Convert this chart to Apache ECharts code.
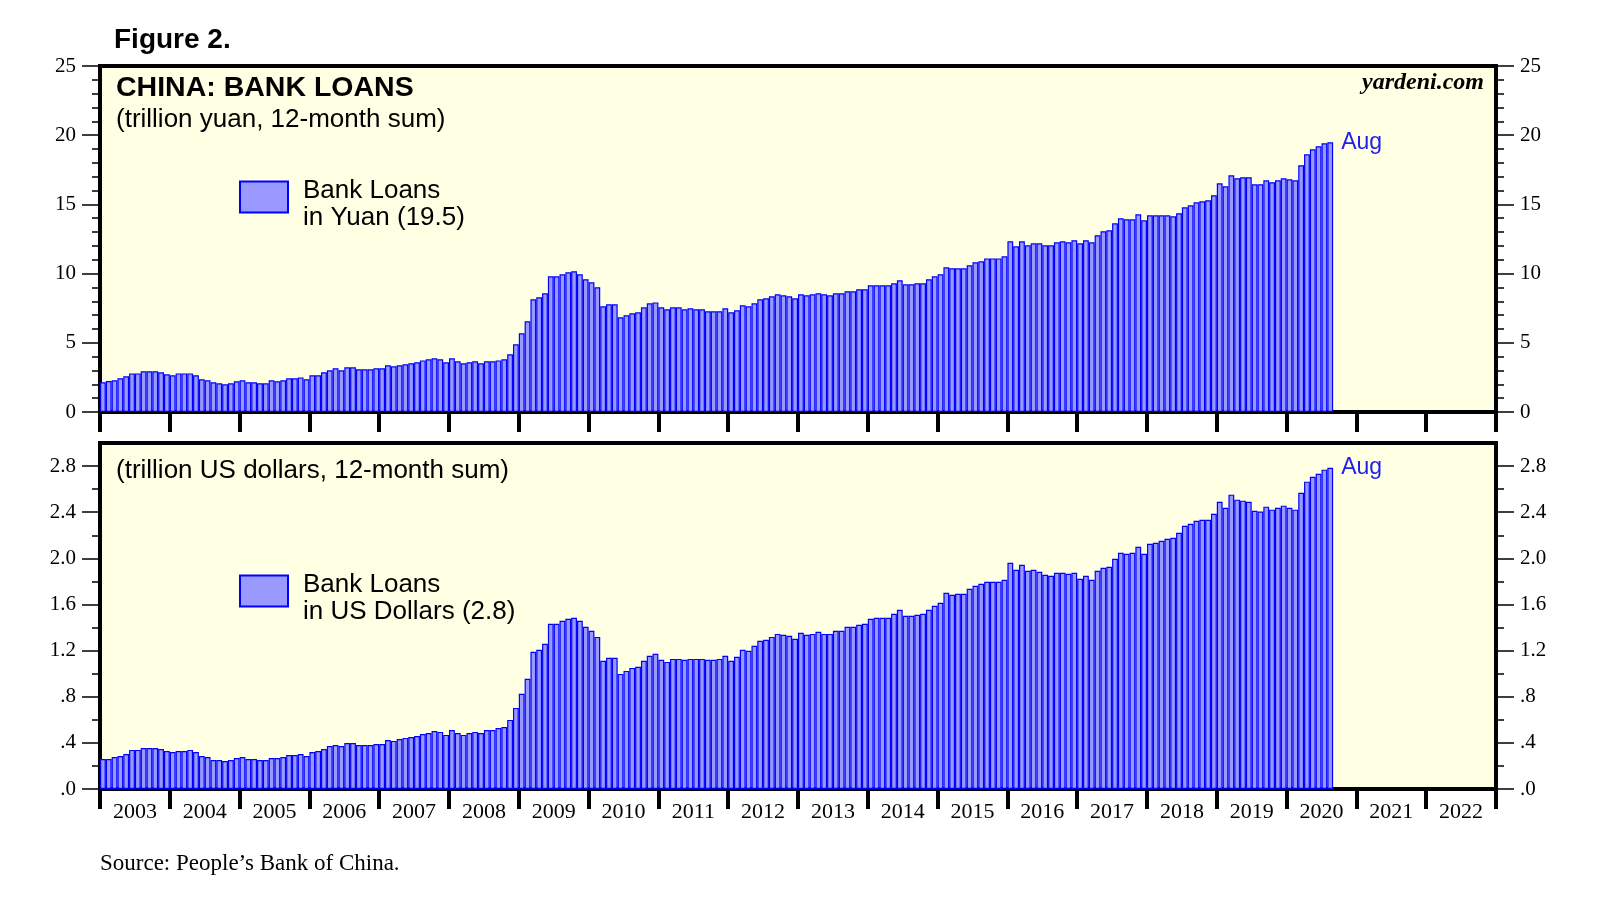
<!DOCTYPE html>
<html>
<head>
<meta charset="utf-8">
<script src="https://cdn.jsdelivr.net/npm/echarts@6/dist/echarts.min.js"></script>
<style>
html,body{margin:0;padding:0;background:#fff;}
#chart{width:1624px;height:923px;}
</style>
</head>
<body>
<div id="chart"></div>
<script>
const years = ['2003','2004','2005','2006','2007','2008','2009','2010','2011','2012','2013','2014','2015','2016','2017','2018','2019','2020','2021','2022'];
const months = [];
years.forEach(y => { for (let m = 1; m <= 12; m++) months.push(y + '-' + (m < 10 ? '0' + m : m)); });

// Bank loans, trillion yuan, 12-month sum (Jan 2003 - Aug 2020)
const yuanLoans = [
  2.15,2.24,2.29,2.43,2.58,2.79,2.79,2.94,2.94,2.94,2.87,2.72,
  2.65,2.79,2.79,2.79,2.65,2.36,2.29,2.15,2.07,2.00,2.07,2.22,
  2.29,2.15,2.15,2.07,2.07,2.29,2.22,2.29,2.43,2.43,2.50,2.36,
  2.65,2.65,2.87,3.01,3.16,3.01,3.23,3.23,3.08,3.08,3.08,3.16,
  3.16,3.37,3.30,3.37,3.45,3.52,3.59,3.73,3.81,3.88,3.81,3.59,
  3.88,3.66,3.52,3.59,3.66,3.52,3.66,3.66,3.73,3.81,4.17,4.89,
  5.69,6.55,8.14,8.29,8.58,9.80,9.80,9.95,10.09,10.17,9.95,9.59,
  9.37,9.01,7.64,7.78,7.78,6.84,6.99,7.13,7.20,7.56,7.85,7.92,
  7.56,7.42,7.56,7.56,7.42,7.49,7.42,7.42,7.28,7.28,7.28,7.49,
  7.20,7.35,7.71,7.64,7.85,8.14,8.21,8.36,8.50,8.43,8.36,8.21,
  8.50,8.43,8.50,8.58,8.50,8.43,8.58,8.58,8.72,8.72,8.87,8.87,
  9.15,9.15,9.15,9.15,9.30,9.52,9.23,9.23,9.30,9.30,9.59,9.80,
  9.95,10.46,10.38,10.38,10.38,10.60,10.82,10.89,11.10,11.10,11.10,11.25,
  12.33,11.97,12.33,12.04,12.19,12.19,12.04,12.04,12.26,12.33,12.26,12.41,
  12.19,12.41,12.26,12.77,13.06,13.13,13.63,14.00,13.92,13.92,14.28,13.85,
  14.21,14.21,14.21,14.21,14.14,14.36,14.79,14.93,15.15,15.22,15.30,15.66,
  16.52,16.31,17.10,16.89,16.96,16.96,16.45,16.45,16.74,16.60,16.74,16.89,
  16.81,16.74,17.83,18.62,18.98,19.20,19.41,19.49
];

// Bank loans, trillion US dollars, 12-month sum (Jan 2003 - Aug 2020)
const usdLoans = [
  0.260,0.260,0.278,0.286,0.304,0.339,0.339,0.356,0.356,0.356,0.347,0.330,
  0.321,0.330,0.330,0.339,0.321,0.286,0.278,0.252,0.252,0.243,0.252,0.269,
  0.278,0.260,0.260,0.252,0.252,0.269,0.269,0.278,0.295,0.295,0.304,0.286,
  0.321,0.330,0.347,0.373,0.382,0.373,0.399,0.399,0.382,0.382,0.382,0.390,
  0.390,0.425,0.417,0.434,0.443,0.451,0.460,0.477,0.486,0.503,0.495,0.469,
  0.512,0.486,0.469,0.486,0.495,0.486,0.512,0.512,0.529,0.538,0.599,0.703,
  0.825,0.955,1.189,1.207,1.259,1.432,1.432,1.458,1.476,1.484,1.458,1.406,
  1.372,1.319,1.111,1.137,1.137,0.998,1.024,1.050,1.059,1.111,1.155,1.172,
  1.120,1.102,1.128,1.128,1.120,1.128,1.128,1.128,1.120,1.120,1.128,1.155,
  1.111,1.146,1.207,1.198,1.241,1.285,1.293,1.319,1.345,1.337,1.328,1.302,
  1.354,1.337,1.345,1.363,1.345,1.345,1.372,1.372,1.406,1.406,1.424,1.432,
  1.476,1.484,1.484,1.484,1.519,1.554,1.502,1.502,1.510,1.519,1.554,1.589,
  1.615,1.701,1.684,1.693,1.693,1.736,1.762,1.780,1.797,1.797,1.797,1.814,
  1.962,1.901,1.944,1.892,1.901,1.884,1.858,1.849,1.875,1.875,1.866,1.875,
  1.823,1.849,1.814,1.892,1.918,1.927,1.997,2.049,2.040,2.049,2.101,2.040,
  2.127,2.135,2.153,2.170,2.179,2.222,2.283,2.300,2.326,2.335,2.335,2.387,
  2.491,2.439,2.552,2.509,2.500,2.491,2.413,2.405,2.448,2.422,2.439,2.457,
  2.439,2.422,2.569,2.665,2.708,2.734,2.769,2.786
];

const usdMajorTicks = [0,0.4,0.8,1.2,1.6,2.0,2.4,2.8];
const usdMinorTicks = [0.2,0.6,1.0,1.4,1.8,2.2,2.6];
const lastMonthLabel = 'Aug';

const SANS = 'Liberation Sans, Arial, sans-serif';
const SERIF = 'Liberation Serif, Times New Roman, serif';
const BAR_FILL = '#9999FF';
const BAR_EDGE = '#0000FF';
const PLOT_BG = '#FFFFE3';

function withLastLabel(arr) {
  return arr.map((v, i) => i === arr.length - 1 ? {
    value: v,
    label: {
      show: true, formatter: lastMonthLabel, position: ['100%', 0], offset: [8, 0],
      align: 'left', verticalAlign: 'middle', color: '#1E1EF0', fontSize: 23, fontFamily: SANS
    }
  } : v);
}

function usdFmt(v) {
  let s = Number(v).toFixed(1);
  if (s.charAt(0) === '0') s = s.slice(1);
  return s;
}

const yLabel = { color: '#000', fontFamily: SERIF, fontSize: 21, margin: 24 };
const majorTick = { show: true, inside: false, length: 18, lineStyle: { color: '#000', width: 1.5 } };
const minorTickStyle = { show: true, length: 8, lineStyle: { color: '#000', width: 1.5 } };

function yuanAxis(pos) {
  return {
    type: 'value', gridIndex: 0, position: pos, min: 0, max: 25, interval: 5,
    axisLine: { show: false }, splitLine: { show: false },
    axisTick: majorTick,
    minorTick: Object.assign({ splitNumber: 5 }, minorTickStyle),
    minorSplitLine: { show: false },
    axisLabel: yLabel
  };
}
function usdAxis(pos) {
  return {
    type: 'value', gridIndex: 1, position: pos, min: 0, max: 3.0, interval: 0.2,
    axisLine: { show: false }, splitLine: { show: false },
    axisTick: Object.assign({ customValues: usdMajorTicks }, majorTick),
    axisLabel: Object.assign({ customValues: usdMajorTicks, formatter: usdFmt }, yLabel)
  };
}
function usdMinorAxis(pos) {
  return {
    type: 'value', gridIndex: 1, position: pos, min: 0, max: 3.0, interval: 0.2,
    axisLine: { show: false }, splitLine: { show: false },
    axisTick: Object.assign({ customValues: usdMinorTicks, inside: false }, minorTickStyle),
    axisLabel: { show: false }
  };
}

function monthAxis(g) {
  return { type: 'category', gridIndex: g, data: months, show: false, boundaryGap: true };
}
function yearAxis(g, showLabels) {
  return {
    type: 'category', gridIndex: g, data: years, position: 'bottom', boundaryGap: true,
    axisLine: { show: true, lineStyle: { color: '#000', width: 4 } },
    axisTick: { show: true, interval: 0, inside: false, length: 20, lineStyle: { color: '#000', width: 4 } },
    axisLabel: { show: showLabels, interval: 0, color: '#000', fontFamily: SERIF, fontSize: 22, margin: 12 },
    splitLine: { show: false }
  };
}

const gridBase = { left: 100, width: 1396, height: 346, show: true, backgroundColor: PLOT_BG, borderColor: '#000', borderWidth: 4 };

const legendBase = {
  orient: 'vertical', left: 239, padding: 0, itemWidth: 48, itemHeight: 31, icon: 'rect',
  textStyle: {
    color: '#000', fontFamily: SANS, fontSize: 26, padding: [0, 0, 0, 10],
    rich: {
      s: { fontSize: 8, lineHeight: 14 },
      t: { color: '#000', fontFamily: SANS, fontSize: 26, lineHeight: 27 }
    }
  },
  selectedMode: false
};

const chart = echarts.init(document.getElementById('chart'), null, { renderer: 'canvas' });
chart.setOption({
  animation: false,
  backgroundColor: '#fff',
  grid: [Object.assign({ top: 66 }, gridBase), Object.assign({ top: 443 }, gridBase)],
  xAxis: [monthAxis(0), yearAxis(0, false), monthAxis(1), yearAxis(1, true)],
  yAxis: [yuanAxis('left'), yuanAxis('right'), usdAxis('left'), usdAxis('right'), usdMinorAxis('left'), usdMinorAxis('right')],
  legend: [
    Object.assign({ top: 166, data: ['yuan'], formatter: () => '{s| }\n{t|Bank Loans}\n{t|in Yuan (19.5)}' }, legendBase),
    Object.assign({ top: 560, data: ['usd'], formatter: () => '{s| }\n{t|Bank Loans}\n{t|in US Dollars (2.8)}' }, legendBase)
  ],
  series: [
    {
      name: 'yuan', type: 'bar', xAxisIndex: 0, yAxisIndex: 0, barCategoryGap: '0%',
      itemStyle: { color: BAR_FILL, borderColor: BAR_EDGE, borderWidth: 1.2 },
      data: withLastLabel(yuanLoans)
    },
    {
      name: 'usd', type: 'bar', xAxisIndex: 2, yAxisIndex: 2, barCategoryGap: '0%',
      itemStyle: { color: BAR_FILL, borderColor: BAR_EDGE, borderWidth: 1.2 },
      data: withLastLabel(usdLoans)
    }
  ],
  graphic: [
    { type: 'text', x: 114, y: 40, style: { text: 'Figure 2.', font: 'bold 28px ' + SANS, fill: '#000', verticalAlign: 'middle' } },
    { type: 'text', x: 116, y: 88, style: { text: 'CHINA: BANK LOANS', font: 'bold 28.5px ' + SANS, fill: '#000', verticalAlign: 'middle' } },
    { type: 'text', x: 116, y: 120, style: { text: '(trillion yuan, 12-month sum)', font: '26px ' + SANS, fill: '#000', verticalAlign: 'middle' } },
    { type: 'text', x: 1484, y: 83, style: { text: 'yardeni.com', font: 'italic bold 24px ' + SERIF, fill: '#000', align: 'right', verticalAlign: 'middle' } },
    { type: 'text', x: 116, y: 471, style: { text: '(trillion US dollars, 12-month sum)', font: '26px ' + SANS, fill: '#000', verticalAlign: 'middle' } },
    { type: 'text', x: 100, y: 864, style: { text: 'Source: People\u2019s Bank of China.', font: '23px ' + SERIF, fill: '#000', verticalAlign: 'middle' } }
  ]
});
</script>
</body>
</html>
